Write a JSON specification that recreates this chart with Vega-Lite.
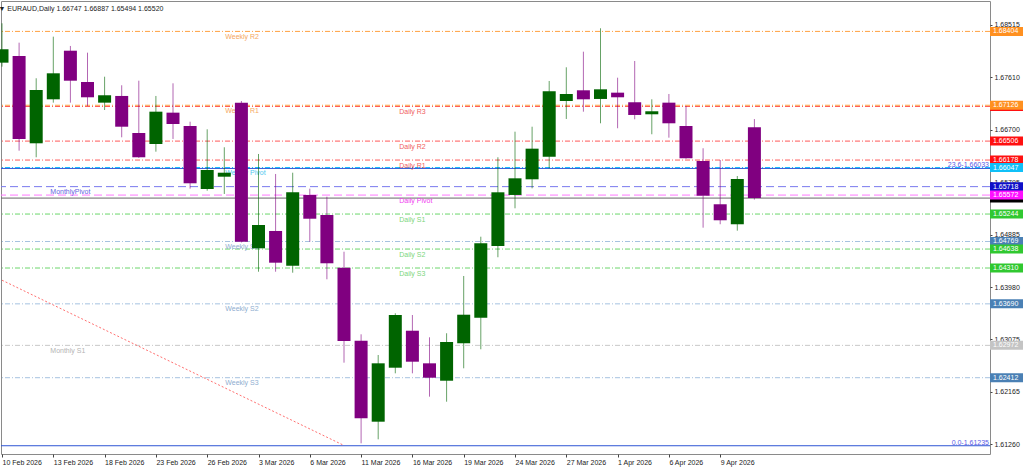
{
  "$schema": "https://vega.github.io/schema/vega-lite/v6.json",
  "width": 989,
  "height": 453,
  "autosize": {"type": "none"},
  "padding": {"left": 1, "top": 1, "right": 34, "bottom": 13},
  "background": "white",
  "config": {
    "view": {"stroke": "#8a8a8a", "strokeWidth": 1},
    "font": "Liberation Sans"
  },
  "title": {
    "text": "▼ EURAUD,Daily  1.66747 1.66887 1.65494 1.65520",
    "anchor": "start",
    "orient": "top",
    "offset": -11,
    "fontSize": 7,
    "fontWeight": "normal",
    "color": "#222222",
    "dx": 3,
    "font": "Liberation Sans"
  },
  "datasets": {
    "candles": [
      {"date": "10 Feb 2026", "open": 1.67863, "high": 1.68544, "low": 1.67794, "close": 1.68095},
      {"date": "11 Feb 2026", "open": 1.67979, "high": 1.68209, "low": 1.66340, "close": 1.66543},
      {"date": "12 Feb 2026", "open": 1.66468, "high": 1.67593, "low": 1.66226, "close": 1.67390},
      {"date": "13 Feb 2026", "open": 1.67229, "high": 1.68313, "low": 1.67171, "close": 1.67679},
      {"date": "16 Feb 2026", "open": 1.68070, "high": 1.68152, "low": 1.67171, "close": 1.67551},
      {"date": "17 Feb 2026", "open": 1.67529, "high": 1.68036, "low": 1.67114, "close": 1.67264},
      {"date": "18 Feb 2026", "open": 1.67171, "high": 1.67620, "low": 1.67044, "close": 1.67299},
      {"date": "19 Feb 2026", "open": 1.67287, "high": 1.67472, "low": 1.66572, "close": 1.66755},
      {"date": "20 Feb 2026", "open": 1.66646, "high": 1.67551, "low": 1.66214, "close": 1.66226},
      {"date": "23 Feb 2026", "open": 1.66456, "high": 1.67287, "low": 1.66323, "close": 1.67015},
      {"date": "24 Feb 2026", "open": 1.66998, "high": 1.67506, "low": 1.66543, "close": 1.66802},
      {"date": "25 Feb 2026", "open": 1.66767, "high": 1.66842, "low": 1.65683, "close": 1.65776},
      {"date": "26 Feb 2026", "open": 1.65677, "high": 1.66710, "low": 1.65648, "close": 1.66006},
      {"date": "27 Feb 2026", "open": 1.65890, "high": 1.66399, "low": 1.65591, "close": 1.65959},
      {"date": "2 Mar 2026", "open": 1.67171, "high": 1.67200, "low": 1.64752, "close": 1.64765},
      {"date": "3 Mar 2026", "open": 1.64651, "high": 1.66283, "low": 1.64246, "close": 1.65054},
      {"date": "4 Mar 2026", "open": 1.64951, "high": 1.65937, "low": 1.64246, "close": 1.64402},
      {"date": "5 Mar 2026", "open": 1.64350, "high": 1.65959, "low": 1.64229, "close": 1.65620},
      {"date": "6 Mar 2026", "open": 1.65574, "high": 1.65683, "low": 1.64765, "close": 1.65163},
      {"date": "9 Mar 2026", "open": 1.65227, "high": 1.65544, "low": 1.64115, "close": 1.64392},
      {"date": "10 Mar 2026", "open": 1.64316, "high": 1.64592, "low": 1.62672, "close": 1.63047},
      {"date": "11 Mar 2026", "open": 1.63052, "high": 1.63163, "low": 1.61277, "close": 1.61710},
      {"date": "12 Mar 2026", "open": 1.61651, "high": 1.62805, "low": 1.61346, "close": 1.62661},
      {"date": "13 Mar 2026", "open": 1.62585, "high": 1.63527, "low": 1.62488, "close": 1.63497},
      {"date": "16 Mar 2026", "open": 1.63225, "high": 1.63497, "low": 1.62488, "close": 1.62689},
      {"date": "17 Mar 2026", "open": 1.62661, "high": 1.63111, "low": 1.62084, "close": 1.62412},
      {"date": "18 Mar 2026", "open": 1.62360, "high": 1.63181, "low": 1.61997, "close": 1.63030},
      {"date": "19 Mar 2026", "open": 1.63008, "high": 1.64172, "low": 1.62575, "close": 1.63502},
      {"date": "20 Mar 2026", "open": 1.63450, "high": 1.64852, "low": 1.62904, "close": 1.64738},
      {"date": "23 Mar 2026", "open": 1.64691, "high": 1.66226, "low": 1.64496, "close": 1.65620},
      {"date": "24 Mar 2026", "open": 1.65574, "high": 1.66669, "low": 1.65343, "close": 1.65862},
      {"date": "25 Mar 2026", "open": 1.65845, "high": 1.66755, "low": 1.65689, "close": 1.66375},
      {"date": "26 Mar 2026", "open": 1.66236, "high": 1.67546, "low": 1.66036, "close": 1.67368},
      {"date": "27 Mar 2026", "open": 1.67200, "high": 1.67783, "low": 1.66889, "close": 1.67321},
      {"date": "30 Mar 2026", "open": 1.67385, "high": 1.68053, "low": 1.67015, "close": 1.67229},
      {"date": "31 Mar 2026", "open": 1.67235, "high": 1.68458, "low": 1.66814, "close": 1.67402},
      {"date": "1 Apr 2026", "open": 1.67344, "high": 1.67603, "low": 1.66728, "close": 1.67264},
      {"date": "2 Apr 2026", "open": 1.67178, "high": 1.67892, "low": 1.66883, "close": 1.66958},
      {"date": "3 Apr 2026", "open": 1.66970, "high": 1.67229, "low": 1.66624, "close": 1.67022},
      {"date": "6 Apr 2026", "open": 1.67171, "high": 1.67321, "low": 1.66565, "close": 1.66814},
      {"date": "7 Apr 2026", "open": 1.66767, "high": 1.67114, "low": 1.66200, "close": 1.66209},
      {"date": "8 Apr 2026", "open": 1.66162, "high": 1.66382, "low": 1.65008, "close": 1.65561},
      {"date": "9 Apr 2026", "open": 1.65413, "high": 1.66179, "low": 1.65067, "close": 1.65136},
      {"date": "10 Apr 2026", "open": 1.65067, "high": 1.65902, "low": 1.64956, "close": 1.65850},
      {"date": "13 Apr 2026", "open": 1.66747, "high": 1.66887, "low": 1.65494, "close": 1.65520}
    ],
    "levels": [
      {"name": "Weekly R2", "price": 1.68404, "kind": "sr"},
      {"name": "Daily R3", "price": 1.67105, "kind": "sr"},
      {"name": "Weekly R1", "price": 1.67126, "kind": "sr"},
      {"name": "Daily R2", "price": 1.66506, "kind": "sr"},
      {"name": "Daily R1", "price": 1.66178, "kind": "sr"},
      {"name": "Weekly Pivot", "price": 1.66047, "kind": "sr"},
      {"name": "MonthlyPivot", "price": 1.65718, "kind": "pivot"},
      {"name": "Price", "price": 1.65520, "kind": "price"},
      {"name": "Daily Pivot", "price": 1.65572, "kind": "pivot"},
      {"name": "Daily S1", "price": 1.65244, "kind": "sr"},
      {"name": "Weekly S1", "price": 1.64769, "kind": "sr"},
      {"name": "Daily S2", "price": 1.64638, "kind": "sr"},
      {"name": "Daily S3", "price": 1.64310, "kind": "sr"},
      {"name": "Weekly S2", "price": 1.63690, "kind": "sr"},
      {"name": "Monthly S1", "price": 1.62972, "kind": "sr"},
      {"name": "Weekly S3", "price": 1.62412, "kind": "sr"}
    ],
    "fibs": [
      {"name": "23.6", "price": 1.66033, "label": "23.6-1.66033"},
      {"name": "0.0", "price": 1.61235, "label": "0.0-1.61235"}
    ],
    "trend": [
      {"date": "10 Feb 2026", "price": 1.64099},
      {"date": "10 Mar 2026", "price": 1.61240}
    ]
  },
  "layer": [
    {
      "data": {"name": "levels"},
      "mark": {"type": "rule", "strokeWidth": 1},
      "encoding": {
        "y": {"field": "price", "type": "quantitative", "title": null,
              "scale": {"domain": [1.61092, 1.6893], "nice": false, "zero": false},
              "axis": {"orient": "right", "values": [1.68515, 1.6806, 1.6761, 1.67155, 1.667, 1.6625, 1.65795, 1.6534, 1.64885, 1.64435, 1.6398, 1.63525, 1.63075, 1.6262, 1.62165, 1.61715, 1.6126],
                       "format": ".5f", "labelFontSize": 7, "labelColor": "#222222", "tickSize": 2, "tickColor": "#444444", "labelPadding": 2, "domain": false, "grid": false, "labelOverlap": false, "labelBound": false, "labelFlush": false}},
        "stroke": {"field": "name", "type": "nominal", "legend": null,
                   "scale": {"domain": ["Weekly R2", "Daily R3", "Weekly R1", "Daily R2", "Daily R1", "Weekly Pivot", "MonthlyPivot", "Price", "Daily Pivot", "Daily S1", "Weekly S1", "Daily S2", "Daily S3", "Weekly S2", "Monthly S1", "Weekly S3"],
                             "range": ["#FFA040", "#FF5A5A", "#FFA040", "#FF5A5A", "#FF5A5A", "#00BFFF", "#7A7AEE", "#666666", "#FF77FF", "#6CD66C", "#A6C2E0", "#6CD66C", "#6CD66C", "#A6C2E0", "#C8C8C8", "#A6C2E0"]}},
        "strokeDash": {"field": "kind", "type": "nominal", "legend": null,
                       "scale": {"domain": ["sr", "pivot", "price"], "range": [[5, 2, 1, 2], [8, 4], [1, 0]]}}
      }
    },
    {
      "data": {"name": "fibs"},
      "mark": {"type": "rule", "strokeWidth": 1, "color": "#2F55D4"},
      "encoding": {
        "y": {"field": "price", "type": "quantitative", "title": null, "scale": {"domain": [1.61092, 1.6893], "nice": false, "zero": false}}
      }
    },
    {
      "data": {"name": "fibs"},
      "mark": {"type": "text", "x": "width", "dx": -1, "dy": 0, "align": "right", "baseline": "bottom", "fontSize": 7, "color": "#5A5AE6"},
      "encoding": {
        "y": {"field": "price", "type": "quantitative", "title": null, "scale": {"domain": [1.61092, 1.6893], "nice": false, "zero": false}},
        "text": {"field": "label"}
      }
    },
    {
      "data": {"name": "trend"},
      "mark": {"type": "line", "color": "#FF7070", "strokeWidth": 1, "strokeDash": [2, 2]},
      "encoding": {
        "x": {"field": "date", "type": "ordinal", "title": null,
              "scale": {"type": "point", "padding": 0, "range": [1, 975.7],
                        "domain": ["10 Feb 2026", "11 Feb 2026", "12 Feb 2026", "13 Feb 2026", "16 Feb 2026", "17 Feb 2026", "18 Feb 2026", "19 Feb 2026", "20 Feb 2026", "23 Feb 2026", "24 Feb 2026", "25 Feb 2026", "26 Feb 2026", "27 Feb 2026", "2 Mar 2026", "3 Mar 2026", "4 Mar 2026", "5 Mar 2026", "6 Mar 2026", "9 Mar 2026", "10 Mar 2026", "11 Mar 2026", "12 Mar 2026", "13 Mar 2026", "16 Mar 2026", "17 Mar 2026", "18 Mar 2026", "19 Mar 2026", "20 Mar 2026", "23 Mar 2026", "24 Mar 2026", "25 Mar 2026", "26 Mar 2026", "27 Mar 2026", "30 Mar 2026", "31 Mar 2026", "1 Apr 2026", "2 Apr 2026", "3 Apr 2026", "6 Apr 2026", "7 Apr 2026", "8 Apr 2026", "9 Apr 2026", "10 Apr 2026", "13 Apr 2026", "14 Apr 2026", "15 Apr 2026", "16 Apr 2026", "17 Apr 2026", "20 Apr 2026", "21 Apr 2026", "22 Apr 2026", "23 Apr 2026", "24 Apr 2026", "27 Apr 2026", "28 Apr 2026", "29 Apr 2026", "30 Apr 2026"]},
              "axis": {"orient": "bottom", "values": ["10 Feb 2026", "13 Feb 2026", "18 Feb 2026", "23 Feb 2026", "26 Feb 2026", "3 Mar 2026", "6 Mar 2026", "11 Mar 2026", "16 Mar 2026", "19 Mar 2026", "24 Mar 2026", "27 Mar 2026", "1 Apr 2026", "6 Apr 2026", "9 Apr 2026"],
                       "labelAlign": "left", "labelAngle": 0, "labelFontSize": 7, "labelColor": "#222222", "tickSize": 3, "tickColor": "#444444", "labelPadding": 1, "domain": false, "grid": false, "labelOverlap": false, "labelBound": false, "labelFlush": false}},
        "y": {"field": "price", "type": "quantitative", "title": null, "scale": {"domain": [1.61092, 1.6893], "nice": false, "zero": false}}
      }
    },
    {
      "data": {"name": "levels"},
      "transform": [{"filter": "indexof(datum.name, 'Weekly') === 0"}],
      "mark": {"type": "text", "align": "left", "baseline": "top", "dx": 1, "dy": 1.5, "fontSize": 7},
      "encoding": {
        "x": {"datum": "27 Feb 2026", "type": "ordinal"},
        "y": {"field": "price", "type": "quantitative", "title": null, "scale": {"domain": [1.61092, 1.6893], "nice": false, "zero": false}},
        "text": {"field": "name"},
        "color": {"field": "name", "type": "nominal", "legend": null,
                  "scale": {"domain": ["Weekly R2", "Daily R3", "Weekly R1", "Daily R2", "Daily R1", "Weekly Pivot", "MonthlyPivot", "Price", "Daily Pivot", "Daily S1", "Weekly S1", "Daily S2", "Daily S3", "Weekly S2", "Monthly S1", "Weekly S3"],
                            "range": ["#F5A860", "#F06060", "#F5A860", "#F06060", "#F06060", "#50C8F0", "#6464E2", "#666666", "#F040F0", "#7CD67C", "#8FAED0", "#7CD67C", "#7CD67C", "#8FAED0", "#B4B4B4", "#8FAED0"]}}
      }
    },
    {
      "data": {"name": "levels"},
      "transform": [{"filter": "indexof(datum.name, 'Daily') === 0"}],
      "mark": {"type": "text", "align": "left", "baseline": "top", "dx": 4, "dy": 1.5, "fontSize": 7},
      "encoding": {
        "x": {"datum": "13 Mar 2026", "type": "ordinal"},
        "y": {"field": "price", "type": "quantitative", "title": null, "scale": {"domain": [1.61092, 1.6893], "nice": false, "zero": false}},
        "text": {"field": "name"},
        "color": {"field": "name", "type": "nominal", "legend": null}
      }
    },
    {
      "data": {"name": "levels"},
      "transform": [{"filter": "indexof(datum.name, 'Monthly') === 0"}],
      "mark": {"type": "text", "align": "left", "baseline": "top", "dx": -3, "dy": 1.5, "fontSize": 7},
      "encoding": {
        "x": {"datum": "13 Feb 2026", "type": "ordinal"},
        "y": {"field": "price", "type": "quantitative", "title": null, "scale": {"domain": [1.61092, 1.6893], "nice": false, "zero": false}},
        "text": {"field": "name"},
        "color": {"field": "name", "type": "nominal", "legend": null}
      }
    },
    {
      "data": {"name": "candles"},
      "mark": {"type": "rule", "strokeWidth": 1, "opacity": 0.6},
      "encoding": {
        "x": {"field": "date", "type": "ordinal", "title": null},
        "y": {"field": "low", "type": "quantitative", "title": null, "scale": {"domain": [1.61092, 1.6893], "nice": false, "zero": false}},
        "y2": {"field": "high"},
        "color": {"condition": {"test": "datum.close >= datum.open", "value": "#006400"}, "value": "#800080"}
      }
    },
    {
      "data": {"name": "candles"},
      "mark": {"type": "bar", "width": 13},
      "encoding": {
        "x": {"field": "date", "type": "ordinal", "title": null},
        "y": {"field": "open", "type": "quantitative", "title": null, "scale": {"domain": [1.61092, 1.6893], "nice": false, "zero": false}},
        "y2": {"field": "close"},
        "color": {"condition": {"test": "datum.close >= datum.open", "value": "#006400"}, "value": "#800080"}
      }
    },
    {
      "data": {"name": "levels"},
      "mark": {"type": "rect", "x": "width", "x2": {"expr": "width + 33"}, "yOffset": -4.5, "y2Offset": 4.5},
      "encoding": {
        "y": {"field": "price", "type": "quantitative", "title": null, "scale": {"domain": [1.61092, 1.6893], "nice": false, "zero": false}},
        "y2": {"field": "price"},
        "fill": {"field": "name", "type": "nominal", "legend": null,
                 "scale": {"domain": ["Weekly R2", "Daily R3", "Weekly R1", "Daily R2", "Daily R1", "Weekly Pivot", "MonthlyPivot", "Price", "Daily Pivot", "Daily S1", "Weekly S1", "Daily S2", "Daily S3", "Weekly S2", "Monthly S1", "Weekly S3"],
                           "range": ["#FF9020", "#FF1010", "#FF9020", "#FF1010", "#FF1010", "#10C0F8", "#1010C8", "#000000", "#FF10FF", "#30C830", "#4A80B4", "#30C830", "#30C830", "#4A80B4", "#C4C4C4", "#4A80B4"]}}
      }
    },
    {
      "data": {"name": "levels"},
      "transform": [{"filter": "datum.name !== 'Daily R3' && datum.name !== 'Price'"}],
      "mark": {"type": "text", "x": "width", "dx": 3, "align": "left", "baseline": "middle", "fontSize": 7, "fill": "white"},
      "encoding": {
        "y": {"field": "price", "type": "quantitative", "title": null, "scale": {"domain": [1.61092, 1.6893], "nice": false, "zero": false}},
        "text": {"field": "price", "type": "quantitative", "format": ".5f"}
      }
    }
  ]
}
